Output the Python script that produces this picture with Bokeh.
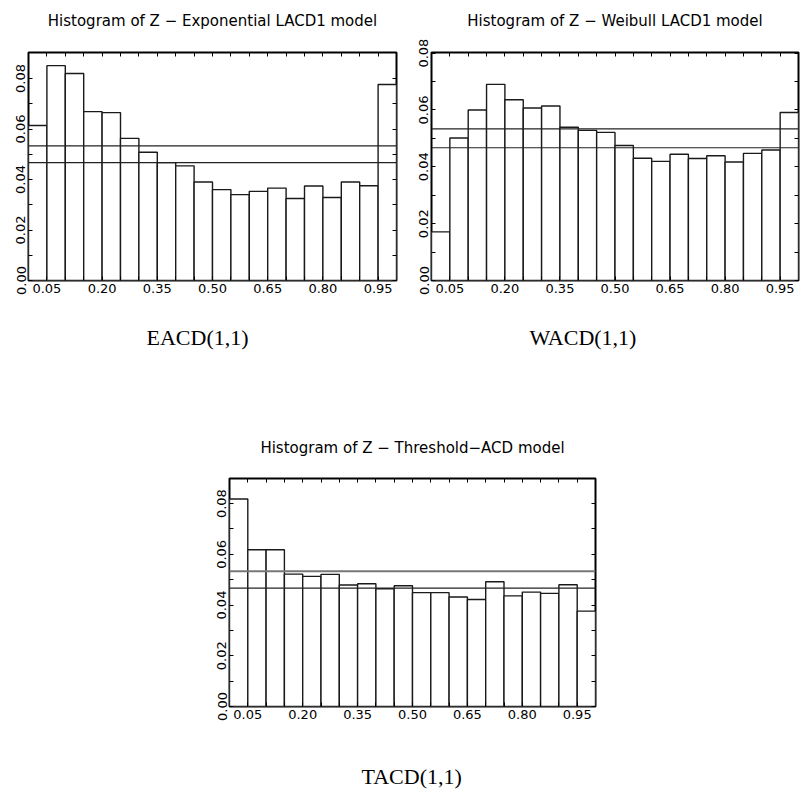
from bokeh.plotting import figure
from bokeh.models import (Range1d, FixedTicker, PrintfTickFormatter, LinearAxis,
                          Span, Title, Spacer, CustomJSTickFormatter)
from bokeh.layouts import column, row
from bokeh.embed import file_html
from bokeh.resources import INLINE

# ---- data ----
bin_starts = [0.00, 0.05, 0.10, 0.15, 0.20, 0.25, 0.30, 0.35, 0.40, 0.45,
              0.50, 0.55, 0.60, 0.65, 0.70, 0.75, 0.80, 0.85, 0.90, 0.95]
bin_width = 0.05

eacd_freq = [0.0614, 0.0851, 0.0820, 0.0669, 0.0665, 0.0563, 0.0508, 0.0467, 0.0454, 0.0390,
             0.0360, 0.0340, 0.0353, 0.0366, 0.0325, 0.0374, 0.0329, 0.0390, 0.0375, 0.0776]
wacd_freq = [0.0171, 0.0501, 0.0600, 0.0690, 0.0636, 0.0607, 0.0614, 0.0539, 0.0528, 0.0521,
             0.0475, 0.0430, 0.0419, 0.0444, 0.0429, 0.0439, 0.0417, 0.0447, 0.0459, 0.0591]
tacd_freq = [0.0818, 0.0618, 0.0618, 0.0522, 0.0513, 0.0521, 0.0479, 0.0484, 0.0464, 0.0476,
             0.0449, 0.0449, 0.0432, 0.0422, 0.0492, 0.0436, 0.0451, 0.0446, 0.0480, 0.0376]

band_lower = 0.0467
band_upper = 0.0533

y_max_eacd = 0.0903
y_max_wacd = 0.0802
y_max_tacd = 0.0899

y_major = [0.00, 0.02, 0.04, 0.06, 0.08]
y_minor = [0.01, 0.03, 0.05, 0.07]
x_major = [0.05, 0.20, 0.35, 0.50, 0.65, 0.80, 0.95]
x_minor = [0.10, 0.15, 0.25, 0.30, 0.40, 0.45, 0.55, 0.60, 0.70, 0.75, 0.85, 0.90]

titles = ["Histogram of Z \u2212 Exponential LACD1 model",
          "Histogram of Z \u2212 Weibull LACD1 model",
          "Histogram of Z \u2212 Threshold\u2212ACD model"]
captions = ["EACD(1,1)", "WACD(1,1)", "TACD(1,1)"]

TICK_FONT = "DejaVu Sans"
TITLE_FONT = "DejaVu Sans"
CAP_FONT = "Liberation Serif"


def style_axis(ax, major, minor, labels):
    ax.ticker = FixedTicker(ticks=major, minor_ticks=minor)
    ax.axis_line_color = None
    ax.major_tick_in = 4
    ax.major_tick_out = 0
    ax.minor_tick_in = 4
    ax.minor_tick_out = 0
    ax.major_tick_line_color = "black"
    ax.minor_tick_line_color = "black"
    ax.major_tick_line_width = 1
    ax.minor_tick_line_width = 1
    if labels:
        ax.formatter = PrintfTickFormatter(format="%.2f")
        ax.major_label_text_font = TICK_FONT
        ax.major_label_text_font_size = "13px"
        ax.major_label_text_color = "black"
        ax.major_label_standoff = 3
    else:
        ax.formatter = CustomJSTickFormatter(code="return ''")
        ax.major_label_text_font_size = "1px"
        ax.major_label_standoff = 0


def make_panel(values, title, caption, ymax, width, height, bl, br, bt, bb,
               title_pad, cap_offset, cap_pad, upper_color, upper_width):
    p = figure(width=width, height=height, x_range=Range1d(0, 1), y_range=Range1d(0, ymax),
               output_backend="svg", toolbar_location=None,
               min_border_left=bl, min_border_right=br, min_border_top=bt, min_border_bottom=bb)
    p.xgrid.visible = False
    p.ygrid.visible = False
    p.background_fill_color = "white"
    p.border_fill_color = "white"
    p.outline_line_color = "black"
    p.outline_line_width = 2

    rights = [b + bin_width for b in bin_starts]
    p.quad(left=bin_starts, right=rights, bottom=0, top=values,
           fill_color="white", line_color="#1a1a1a", line_width=1.4)

    p.add_layout(Span(location=band_upper, dimension="width", line_color=upper_color,
                      line_width=upper_width))
    p.add_layout(Span(location=band_lower, dimension="width", line_color="#222222", line_width=1.2))

    style_axis(p.xaxis[0], x_major, x_minor, True)
    style_axis(p.yaxis[0], y_major, y_minor, True)
    p.yaxis[0].major_label_orientation = "vertical"

    top_ax = LinearAxis()
    style_axis(top_ax, x_major, x_minor, False)
    p.add_layout(top_ax, "above")
    right_ax = LinearAxis()
    style_axis(right_ax, y_major, y_minor, False)
    p.add_layout(right_ax, "right")

    p.add_layout(Title(text=title, align="center", text_font=TITLE_FONT,
                       text_font_size="15px", text_font_style="normal",
                       text_color="black", standoff=0,
                       padding=dict(left=0, right=0, top=0, bottom=title_pad)), "above")
    p.add_layout(Title(text=caption, align="left", offset=cap_offset,
                       text_font=CAP_FONT, text_font_size="22px", text_font_style="normal",
                       text_color="black", standoff=0,
                       padding=dict(left=0, right=0, top=cap_pad, bottom=0)), "below")
    return p


p1 = make_panel(eacd_freq, titles[0], captions[0], y_max_eacd,
                413, 380, 28, 17, 52, 100, 23, 118, 27, "#222222", 1.2)
p2 = make_panel(wacd_freq, titles[1], captions[1], y_max_wacd,
                387, 380, 18, 2, 52, 100, 23, 98, 27, "#222222", 1.2)
p3 = make_panel(tacd_freq, titles[2], captions[2], y_max_tacd,
                414, 420, 28, 20, 98, 94, 22, 132, 40, "#777777", 2)

layout = column(row(p1, p2), row(Spacer(width=201, height=420), p3))

open("out.html", "w").write(file_html(layout, INLINE))
